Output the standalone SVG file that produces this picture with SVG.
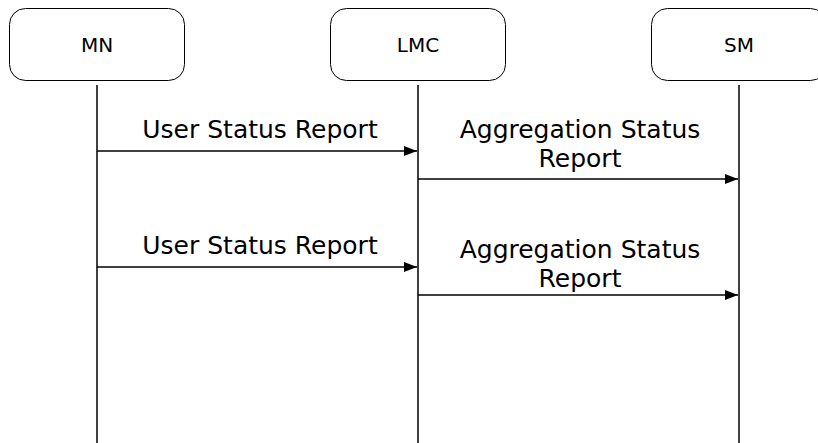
<svg xmlns="http://www.w3.org/2000/svg" width="818" height="443" viewBox="0 0 818 443">
<style>
.box{fill:#fff;stroke:#000;stroke-width:1}
.t{font-family:"DejaVu Sans",Verdana,sans-serif;fill:#000;text-anchor:middle}
.n{font-size:20px}
.m{font-size:25px}
.life{stroke:#000;stroke-width:1.5}
.msg{stroke:#000;stroke-width:1.3;marker-end:url(#ah)}
</style>
<defs>
<marker id="ah" markerWidth="14" markerHeight="10" refX="13" refY="5" orient="auto" markerUnits="userSpaceOnUse">
<path d="M0,0 L13,5 L0,10 Z" fill="#000"/>
</marker>
</defs>
<g id="connectors">
<line class="life" x1="97" y1="85" x2="97" y2="443"/>
<line class="life" x1="418" y1="85" x2="418" y2="443"/>
<line class="life" x1="739" y1="85" x2="739" y2="443"/>
<line class="msg" x1="97" y1="151" x2="417" y2="151"/>
<line class="msg" x1="418" y1="179" x2="738" y2="179"/>
<line class="msg" x1="97" y1="267" x2="417" y2="267"/>
<line class="msg" x1="418" y1="295" x2="738" y2="295"/>
<text class="t m" x="260" y="138">User Status Report</text>
<text class="t m" x="580" y="138">Aggregation Status</text>
<text class="t m" x="580" y="167">Report</text>
<text class="t m" x="260" y="254">User Status Report</text>
<text class="t m" x="580" y="258">Aggregation Status</text>
<text class="t m" x="580" y="287">Report</text>
</g>
<g id="MN">
<rect class="box" x="9.5" y="8.5" width="175" height="72" rx="16"/>
<text class="t n" x="97" y="52">MN</text>
</g>
<g id="LMC">
<rect class="box" x="330.5" y="8.5" width="175" height="72" rx="16"/>
<text class="t n" x="418" y="52">LMC</text>
</g>
<g id="SM">
<rect class="box" x="651.5" y="8.5" width="175" height="72" rx="16"/>
<text class="t n" x="739" y="52">SM</text>
</g>
</svg>
